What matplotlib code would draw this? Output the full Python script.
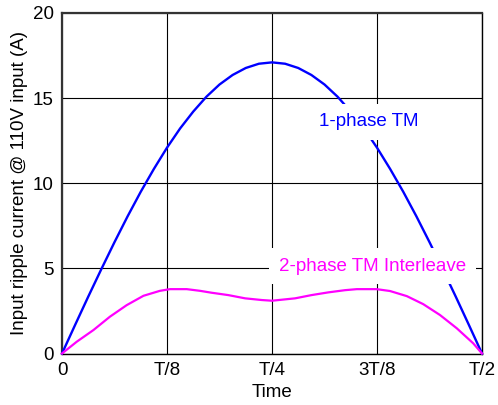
import matplotlib
matplotlib.use("Agg")
import matplotlib.pyplot as plt

plt.rcParams['font.family'] = ['Liberation Sans', 'DejaVu Sans']

# Time in units of the line period T
blue_t = [0.0, 0.015625, 0.03125, 0.046875, 0.0625, 0.078125, 0.09375, 0.109375,
          0.125, 0.140625, 0.15625, 0.171875, 0.1875, 0.203125, 0.21875, 0.234375,
          0.25, 0.265625, 0.28125, 0.296875, 0.3125, 0.328125, 0.34375, 0.359375,
          0.375, 0.390625, 0.40625, 0.421875, 0.4375, 0.453125, 0.46875, 0.484375, 0.5]
blue_i = [0.0, 1.68, 3.34, 4.96, 6.54, 8.06, 9.50, 10.84,
          12.09, 13.22, 14.21, 15.08, 15.80, 16.36, 16.77, 17.02,
          17.1, 17.02, 16.77, 16.36, 15.80, 15.08, 14.21, 13.22,
          12.09, 10.84, 9.50, 8.06, 6.54, 4.96, 3.34, 1.68, 0.0]

mag_t = [0.0, 0.0175, 0.0375, 0.057, 0.077, 0.097, 0.1165, 0.1285, 0.1485, 0.1645,
         0.178, 0.198, 0.218, 0.238, 0.25, 0.2775, 0.297, 0.317, 0.337, 0.351,
         0.3745, 0.3905, 0.4105, 0.43, 0.45, 0.47, 0.4895, 0.5]
mag_i = [0.0, 0.69, 1.38, 2.16, 2.84, 3.39, 3.68, 3.78, 3.78, 3.68,
         3.57, 3.43, 3.24, 3.14, 3.10, 3.24, 3.43, 3.59, 3.72, 3.78,
         3.78, 3.67, 3.37, 2.90, 2.26, 1.48, 0.60, 0.0]

xticks = [0, 0.125, 0.25, 0.375, 0.5]
xtick_labels = ['0', 'T/8', 'T/4', '3T/8', 'T/2']
yticks = [0, 5, 10, 15, 20]

fig = plt.figure(figsize=(4.98, 4.05), dpi=100)
ax = fig.add_axes([62/498, 51.5/405, 420/498, 340.5/405])

ax.plot(blue_t, blue_i, color='#0000FF', lw=1.7, zorder=3, clip_on=False)
ax.plot(mag_t, mag_i, color='#FF00FF', lw=1.6, zorder=3, clip_on=False)

ax.set_xlim(0, 0.5)
ax.set_ylim(0, 20)
ax.set_xticks(xticks)
ax.set_xticklabels(xtick_labels)
ax.set_yticks(yticks)
ax.tick_params(length=0, labelsize=13.5, pad=6)
ax.grid(True, color='black', lw=0.8)
ax.set_axisbelow(True)
for s in ax.spines.values():
    s.set_linewidth(1.0)
ax.spines['top'].set_linewidth(1.6)
ax.spines['top'].set_color('#333333')
ax.spines['left'].set_linewidth(1.6)
ax.spines['left'].set_color('#333333')

ax.set_xlabel('Time', fontsize=13.5, labelpad=4)
ax.set_ylabel('Input ripple current @ 110V input (A)', fontsize=13.5, labelpad=3)

ax.text(0.3655, 13.6, '1-phase TM', color='#0000FF', fontsize=13.5,
        ha='center', va='center', zorder=5,
        bbox=dict(facecolor='white', edgecolor='none', pad=7))
ax.text(0.370, 5.13, '2-phase TM Interleave', color='#FF00FF', fontsize=13.5,
        ha='center', va='center', zorder=5,
        bbox=dict(facecolor='white', edgecolor='none', pad=7))

fig.savefig('out.png', dpi=100)
